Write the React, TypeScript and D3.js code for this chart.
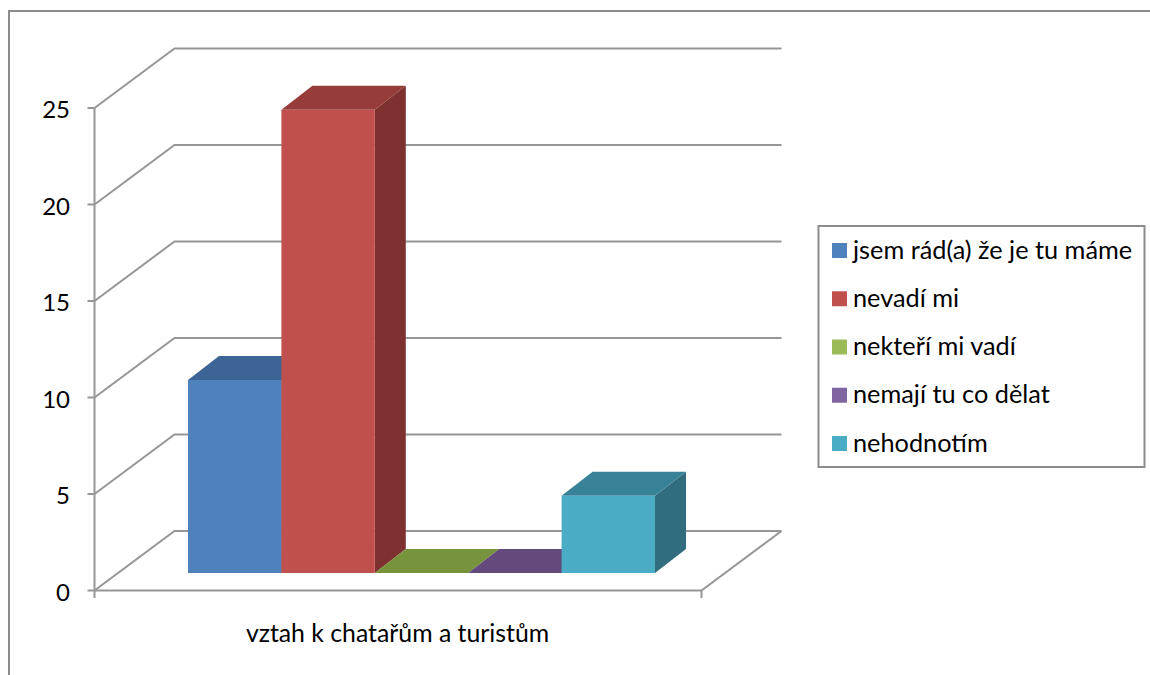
import React, { useEffect, useRef } from 'react';
import * as d3 from 'd3';

const seriesNames = ['jsem rád(a) že je tu máme', 'nevadí mi', 'nekteří mi vadí', 'nemají tu co dělat', 'nehodnotím'];
const seriesValues = [10, 24, 0, 0, 4];
const categoryLabel = 'vztah k chatařům a turistům';
const yTicks = [0, 5, 10, 15, 20, 25];
const frontColors = ['#4f81bd', '#c0504d', '#9bbb59', '#8064a2', '#4bacc6'];
const topColors = ['#3c6494', '#963d3a', '#77933c', '#644a7c', '#388297'];
const sideColors = ['#325379', '#7d3230', '#62792f', '#523d66', '#316d7f'];

const FONT = 'Lato, "Open Sans", sans-serif';
const GRID = '#969696';

export default function App() {
  const svgRef = useRef<SVGSVGElement>(null);

  useEffect(() => {
    const svg = d3.select(svgRef.current);
    svg.selectAll('*').remove();

    const y = d3.scaleLinear().domain([0, 25]).range([590.5, 108]);
    const x = d3.scaleBand().domain(seriesNames).range([188, 655]);
    const wall = { dx: 80, dy: -59.5 };
    const bar = { dx: 31, dy: -24, lift: -17.5 };
    const axisLeft = 94.5;
    const axisRight = 701.5;
    const poly = (pts: number[][]) => pts.map(p => p.join(',')).join(' ');

    // outer frame runs off the right and bottom of the picture
    svg.append('path').attr('d', 'M9,680V11H1155').attr('fill', 'none').attr('stroke', '#8c8c8c').attr('stroke-width', 2);

    // walls and floor
    const grid = svg.append('g').attr('fill', 'none').attr('stroke', GRID).attr('stroke-width', 2);
    yTicks.forEach(t => {
      grid.append('path').attr('d', `M${axisLeft},${y(t)}L${axisLeft + wall.dx},${y(t) + wall.dy}H${axisRight + wall.dx}`);
      grid.append('line').attr('x1', axisLeft - 7).attr('x2', axisLeft).attr('y1', y(t)).attr('y2', y(t));
    });
    grid.append('line').attr('x1', axisLeft).attr('x2', axisLeft).attr('y1', y(25)).attr('y2', 598);
    grid.append('path').attr('d', `M${axisLeft},${y(0)}H${axisRight}L${axisRight + wall.dx},${y(0) + wall.dy}`);
    grid.append('line').attr('x1', axisRight).attr('x2', axisRight).attr('y1', y(0)).attr('y2', 598);

    svg.append('g').selectAll('text').data(yTicks).join('text')
      .attr('x', 70).attr('y', d => y(d) + 10).attr('text-anchor', 'end')
      .attr('font-family', FONT).attr('font-size', 24).attr('fill', '#000')
      .text(d => d);

    // bars left to right, so the next front face covers the previous side
    seriesNames.forEach((name, i) => {
      const x0 = x(name) as number;
      const x1 = x0 + x.bandwidth();
      const base = y(0) + bar.lift;
      const top = base - (y(0) - y(seriesValues[i]));
      const g = svg.append('g');
      g.append('polygon').attr('fill', sideColors[i])
        .attr('points', poly([[x1, base], [x1 + bar.dx, base + bar.dy], [x1 + bar.dx, top + bar.dy], [x1, top]]));
      g.append('polygon').attr('fill', topColors[i])
        .attr('points', poly([[x0, top], [x0 + bar.dx, top + bar.dy], [x1 + bar.dx, top + bar.dy], [x1, top]]));
      g.append('rect').attr('x', x0).attr('y', top).attr('width', x.bandwidth()).attr('height', base - top).attr('fill', frontColors[i]);
    });

    svg.append('text').attr('x', 397.5).attr('y', 642).attr('text-anchor', 'middle')
      .attr('font-family', FONT).attr('font-size', 24.8).attr('fill', '#000')
      .text(categoryLabel);

    // legend
    const legendY = d3.scalePoint().domain(seriesNames).range([250.5, 443.5]);
    svg.append('rect').attr('x', 818.5).attr('y', 226).attr('width', 326).attr('height', 241)
      .attr('fill', '#fff').attr('stroke', '#8c8c8c').attr('stroke-width', 2);
    const items = svg.append('g').selectAll('g').data(seriesNames).join('g')
      .attr('transform', d => `translate(832,${legendY(d)})`);
    items.append('rect').attr('y', -7.5).attr('width', 15).attr('height', 15).attr('fill', (_, i) => frontColors[i]);
    items.append('text').attr('x', 21).attr('y', 8)
      .attr('font-family', FONT).attr('font-size', 25.3).attr('fill', '#000')
      .text(d => d);
  }, []);

  return (
    <svg ref={svgRef} width={1150} height={675}
      style={{ position: 'absolute', left: 0, top: 0, background: '#fff' }} />
  );
}
